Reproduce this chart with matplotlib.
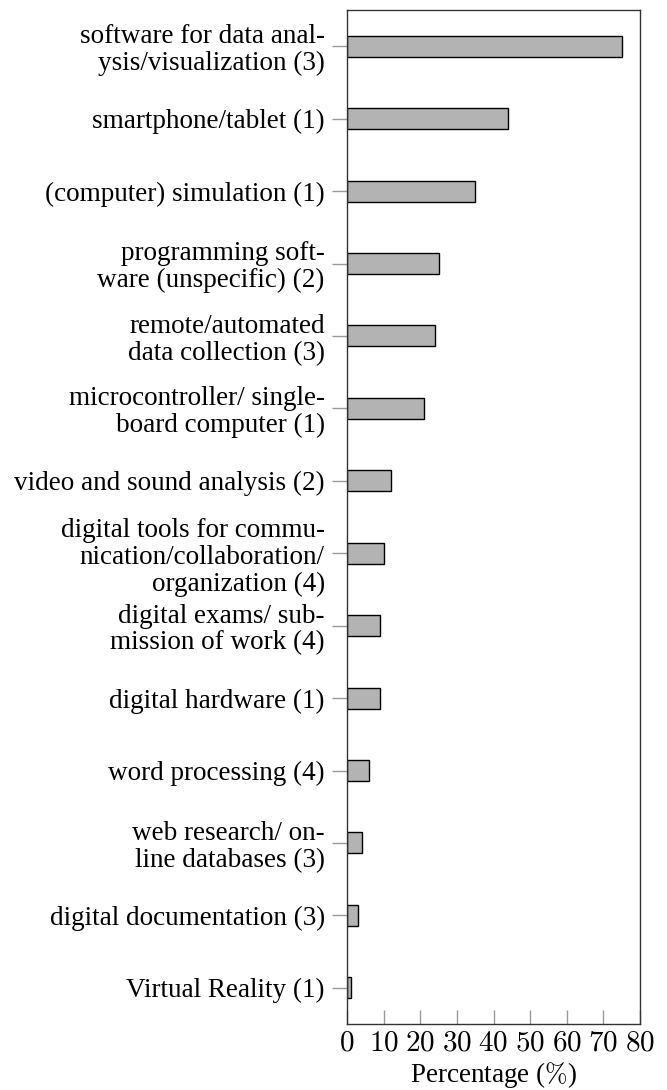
import matplotlib
matplotlib.use("Agg")
import matplotlib.pyplot as plt
import numpy as np

# categories top to bottom, with the line breaks used in the chart
labels = [
    "software for data anal-\nysis/visualization (3)",
    "smartphone/tablet (1)",
    "(computer) simulation (1)",
    "programming soft-\nware (unspecific) (2)",
    "remote/automated\ndata collection (3)",
    "microcontroller/ single-\nboard computer (1)",
    "video and sound analysis (2)",
    "digital tools for commu-\nnication/collaboration/\norganization (4)",
    "digital exams/ sub-\nmission of work (4)",
    "digital hardware (1)",
    "word processing (4)",
    "web research/ on-\nline databases (3)",
    "digital documentation (3)",
    "Virtual Reality (1)",
]
percentages = [75, 44, 35, 25, 24, 21, 12, 10, 9, 9, 6, 4, 3, 1]
x_ticks = [0, 10, 20, 30, 40, 50, 60, 70, 80]

plt.rcParams["font.family"] = ["Liberation Serif", "DejaVu Serif"]
plt.rcParams["mathtext.fontset"] = "cm"

fig = plt.figure(figsize=(6.67, 10.90), dpi=100)
ax = fig.add_axes([347 / 667, 1 - 1024 / 1090, (640 - 347) / 667, (1024 - 10) / 1090])

y = np.arange(len(labels))
ax.barh(y, percentages, height=0.29, color="#b3b3b3", edgecolor="black", linewidth=1.0)

ax.set_xlim(0, 80)
ax.set_ylim(len(labels) - 0.5, -0.5)

ax.set_yticks(y)
ax.set_yticklabels(labels, fontsize=19.5, ha="right", multialignment="right",
                   linespacing=1.1)
ax.set_xticks(x_ticks)
ax.set_xticklabels([f"${t}$" for t in x_ticks], fontsize=21)

ax.tick_params(axis="y", direction="out", length=11, color="#999999", width=1.0, pad=5)
ax.tick_params(axis="x", direction="in", length=10, color="#999999", width=1.0, pad=5)

for s in ax.spines.values():
    s.set_linewidth(1.0)
    s.set_color("#333333")

ax.set_xlabel("Percentage ($\\%$)", fontsize=19.5, labelpad=2)

fig.savefig("out.png", dpi=100)
